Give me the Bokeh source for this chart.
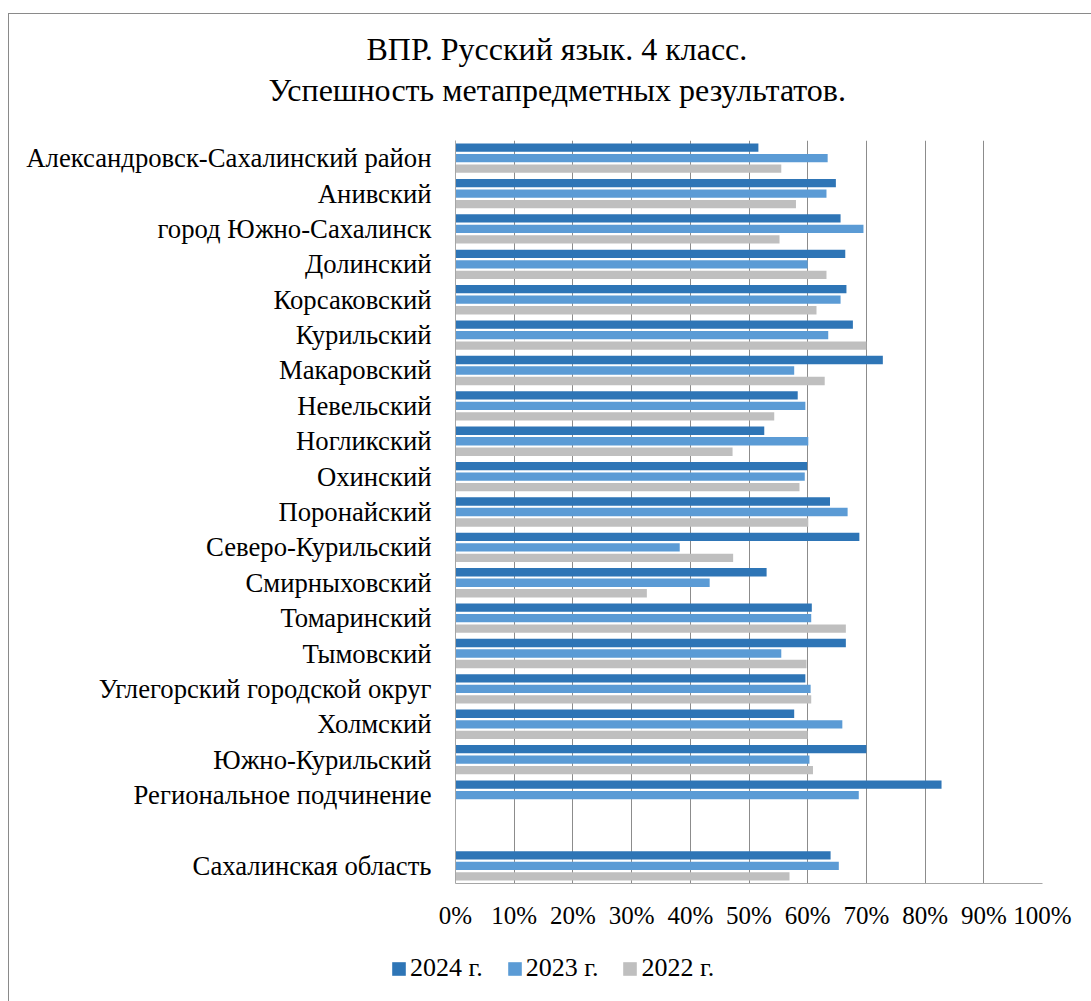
from bokeh.plotting import figure
from bokeh.models import (ColumnDataSource, FactorRange, Range1d, FixedTicker,
                          NumeralTickFormatter, Legend, LegendItem, Title)
from bokeh.layouts import column
from bokeh.transform import dodge
from bokeh.embed import file_html
from bokeh.resources import INLINE
import numpy as np

categories = [
    "Александровск-Сахалинский район",
    "Анивский",
    "город Южно-Сахалинск",
    "Долинский",
    "Корсаковский",
    "Курильский",
    "Макаровский",
    "Невельский",
    "Ногликский",
    "Охинский",
    "Поронайский",
    "Северо-Курильский",
    "Смирныховский",
    "Томаринский",
    "Тымовский",
    "Углегорский городской округ",
    "Холмский",
    "Южно-Курильский",
    "Региональное подчинение",
    " ",
    "Сахалинская область",
]

v2024 = [51.6, 64.8, 65.6, 66.4, 66.6, 67.7, 72.8, 58.3, 52.6, 59.9, 63.8,
         68.8, 53.0, 60.7, 66.5, 59.6, 57.7, 70.0, 82.8, None, 63.9]
v2023 = [63.4, 63.2, 69.5, 60.0, 65.6, 63.5, 57.7, 59.6, 60.1, 59.5, 66.8,
         38.2, 43.3, 60.6, 55.5, 60.5, 65.9, 60.3, 68.7, None, 65.3]
v2022 = [55.5, 58.0, 55.2, 63.2, 61.5, 70.0, 62.9, 54.3, 47.2, 58.6, 60.1,
         47.3, 32.6, 66.5, 59.8, 60.6, 60.0, 60.9, None, None, 56.9]

series_names = ["2024 г.", "2023 г.", "2022 г."]
colors = ["#2E75B6", "#5B9BD5", "#BFBFBF"]
x_ticks = [0, 0.1, 0.2, 0.3, 0.4, 0.5, 0.6, 0.7, 0.8, 0.9, 1.0]

def frac(vals):
    return [np.nan if v is None else v / 100.0 for v in vals]

source = ColumnDataSource(dict(
    cat=categories,
    y2024=frac(v2024),
    y2023=frac(v2023),
    y2022=frac(v2022),
))

FONT = "Liberation Serif"

p = figure(
    width=1082, height=930,
    y_range=FactorRange(factors=list(reversed(categories)), range_padding=0),
    x_range=Range1d(0, 1),
    output_backend="svg", toolbar_location=None,
    min_border_left=446, min_border_right=49,
    min_border_top=126, min_border_bottom=61,
    outline_line_color=None, frame_align=False,
)
p.title = None

spacer = Title(text=" ", text_font_size="1px", standoff=30)
t2 = Title(text="Успешность метапредметных результатов.", align="left",
           offset=-187, text_font=FONT, text_font_size="32px",
           text_font_style="normal", text_color="#000000", standoff=0)
t1 = Title(text="ВПР. Русский язык. 4 класс.", align="left",
           offset=-89, text_font=FONT, text_font_size="32px",
           text_font_style="normal", text_color="#000000", standoff=6)
p.add_layout(spacer, "above")
p.add_layout(t2, "above")
p.add_layout(t1, "above")

offsets = [0.297, 0.0, -0.297]
fields = ["y2024", "y2023", "y2022"]
for f, off, c in zip(fields, offsets, colors):
    p.hbar(y=dodge("cat", off, range=p.y_range), right=f, left=0,
           height=0.235, source=source, fill_color=c, line_color=None)

p.xaxis.ticker = FixedTicker(ticks=x_ticks)
p.xaxis.formatter = NumeralTickFormatter(format="0%")
p.xaxis.major_label_text_font = FONT
p.xaxis.major_label_text_font_size = "25px"
p.xaxis.major_label_text_color = "#000000"
p.xaxis.major_label_standoff = 12
p.xaxis.major_tick_line_color = None
p.xaxis.minor_tick_line_color = None
p.xaxis.axis_line_color = "#a6a6a6"

p.yaxis.major_label_text_font = FONT
p.yaxis.major_label_text_font_size = "26.7px"
p.yaxis.major_label_text_color = "#000000"
p.yaxis.major_label_standoff = 18
p.yaxis.major_tick_line_color = None
p.yaxis.minor_tick_line_color = None
p.yaxis.axis_line_color = "#a6a6a6"

p.xgrid.ticker = FixedTicker(ticks=x_ticks)
p.xgrid.grid_line_color = "#8c8c8c"
p.xgrid.grid_line_width = 1
p.ygrid.grid_line_color = None

# legend strip below the chart (its own figure, hidden proxy bars)
lg = figure(
    width=1082, height=57, output_backend="svg", toolbar_location=None,
    x_range=Range1d(0, 1),
    y_range=FactorRange(factors=list(reversed(categories)), range_padding=0),
    x_axis_type=None, y_axis_type=None,
    min_border=0, outline_line_color=None, frame_align=False,
)
lg.grid.visible = False
leg_renderers = []
for f, off, c in zip(fields, offsets, colors):
    r = lg.hbar(y=dodge("cat", off, range=lg.y_range), right=f, left=0,
                height=0.235, source=source, fill_color=c, line_color=None,
                visible=False)
    leg_renderers.append(r)
legend = Legend(
    items=[LegendItem(label=n, renderers=[r]) for n, r in zip(series_names, leg_renderers)],
    orientation="horizontal", location=(381, 18),
    glyph_width=17, glyph_height=17, label_height=17, label_standoff=3,
    spacing=23,
    padding=0, margin=0, border_line_color=None, background_fill_alpha=0,
    inactive_fill_alpha=0,
    label_text_font=FONT, label_text_font_size="26px", label_text_color="#000000",
)
lg.add_layout(legend, "center")

layout = column(p, lg, spacing=0,
                styles={"margin-left": "8px", "margin-top": "13px",
                        "border-top": "1px solid #8a8a8a",
                        "border-left": "1px solid #8a8a8a"})

open("out.html", "w").write(file_html(layout, INLINE))
